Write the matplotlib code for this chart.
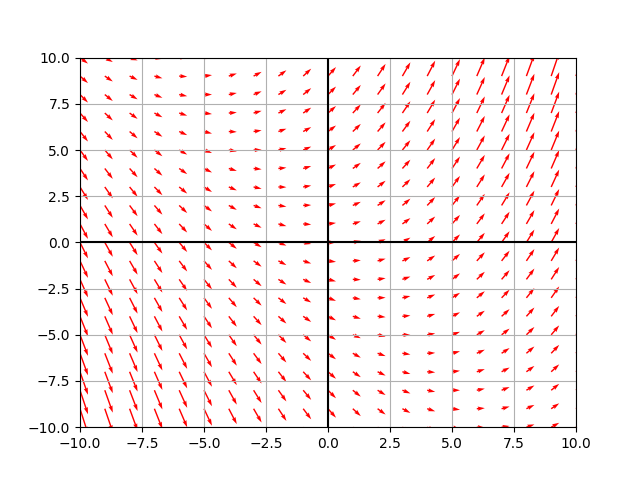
### IMPORT PACKAGES ###
import numpy as np
import matplotlib
matplotlib.use('Agg')
import matplotlib.pyplot as plt

### DATA ###
#Grid points where the slope arrows sit
x_points = [-10, -9, -8, -7, -6, -5, -4, -3, -2, -1, 0, 1, 2, 3, 4, 5, 6, 7, 8, 9, 10]
y_points = [-10, -9, -8, -7, -6, -5, -4, -3, -2, -1, 0, 1, 2, 3, 4, 5, 6, 7, 8, 9, 10]

#Slope field dy/dx = a*x + b*y (coefficients)
coef_x = 0.2
coef_y = 0.125

### MAIN ###
X, Y = np.meshgrid(x_points, y_points)
U = np.ones(X.shape)
V = coef_x*X + coef_y*Y

fig, ax = plt.subplots(figsize=(6.4, 4.8), dpi=100)
ax.quiver(X, Y, U, V, color='red')

#Axes through the origin
ax.axhline(0, color='black', linewidth=1.5)
ax.axvline(0, color='black', linewidth=1.5)

ax.set_xlim(-10, 10)
ax.set_ylim(-10, 10)
ax.grid(True)

plt.savefig('out.png')
